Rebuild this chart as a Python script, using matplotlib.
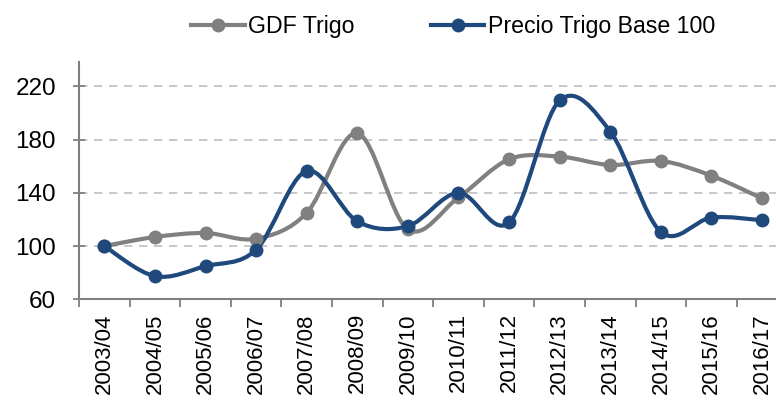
import numpy as np
import matplotlib
matplotlib.use("Agg")
import matplotlib.pyplot as plt
from matplotlib.path import Path
from matplotlib.patches import PathPatch
from matplotlib.lines import Line2D

plt.rcParams['font.family'] = ['Liberation Sans', 'DejaVu Sans']

campanas = ['2003/04', '2004/05', '2005/06', '2006/07', '2007/08', '2008/09', '2009/10',
            '2010/11', '2011/12', '2012/13', '2013/14', '2014/15', '2015/16', '2016/17']
gdf_trigo = [100, 106.8, 109.8, 105.5, 124.9, 184.8, 112.5,
             136.5, 165.2, 167.2, 160.9, 163.9, 152.8, 135.8]
precio_trigo = [100, 77.4, 84.9, 97.2, 156.4, 118.6, 115,
                140, 117.7, 209.4, 186, 110.6, 121.4, 119.4]

GRIS = '#808080'
AZUL = '#1F497D'
FS = 17.5


def smooth_path(x, y):
    # curva suavizada tipo Excel (Bezier con tangentes Catmull-Rom)
    pts = np.column_stack([x, y]).astype(float)
    n = len(pts)
    verts = [pts[0]]
    codes = [Path.MOVETO]
    for i in range(n - 1):
        p0 = pts[i - 1] if i > 0 else pts[i]
        p1 = pts[i]
        p2 = pts[i + 1]
        p3 = pts[i + 2] if i + 2 < n else pts[i + 1]
        c1 = p1 + (p2 - p0) / 6.0
        c2 = p2 - (p3 - p1) / 6.0
        verts += [c1, c2, p2]
        codes += [Path.CURVE4] * 3
    return Path(verts, codes)


fig = plt.figure(figsize=(7.76, 4.01), dpi=100)
ax = fig.add_axes([79 / 776, (401 - 299.3) / 401, 708.4 / 776, (299.3 - 61.7) / 401])

x = np.arange(len(campanas))
for serie, color in [(gdf_trigo, GRIS), (precio_trigo, AZUL)]:
    patch = PathPatch(smooth_path(x, serie), facecolor='none', edgecolor=color,
                      lw=3.0, capstyle='round', joinstyle='round', zorder=3)
    ax.add_patch(patch)
    ax.plot(x, serie, ls='none', marker='o', ms=9, color=color, zorder=4)

ax.set_xlim(-0.5, len(campanas) - 0.5)
ax.set_ylim(60, 238.5)
ax.set_yticks([60, 100, 140, 180, 220])
for v in [100, 140, 180, 220]:
    ax.axhline(v, color='#BFBFBF', lw=1.2, ls=(0, (5, 4)), zorder=1)

ax.set_xticks(x)
ax.set_xticklabels(campanas, rotation=90, fontsize=16)
ax.set_xticks(np.arange(-0.5, len(campanas), 1), minor=True)
ax.tick_params(axis='x', which='major', length=0, pad=10)
ax.tick_params(axis='x', which='minor', length=6, width=1.3, color=GRIS, direction='out')
ax.tick_params(axis='y', length=9, width=1.3, color=GRIS, direction='inout', pad=12, labelsize=FS)

for s in ['top', 'right']:
    ax.spines[s].set_visible(False)
for s in ['left', 'bottom']:
    ax.spines[s].set_color(GRIS)
    ax.spines[s].set_linewidth(1.5)

handles = [Line2D([], [], color=GRIS, lw=3.0, marker='o', ms=9),
           Line2D([], [], color=AZUL, lw=3.0, marker='o', ms=9)]
fig.legend(handles, ['GDF Trigo', 'Precio Trigo Base 100'], loc='center',
           bbox_to_anchor=(0.584, 0.933), ncol=2, frameon=False, fontsize=16.7,
           handlelength=2.3, handletextpad=0.15, columnspacing=3.3)

fig.savefig('out.png', dpi=100)
